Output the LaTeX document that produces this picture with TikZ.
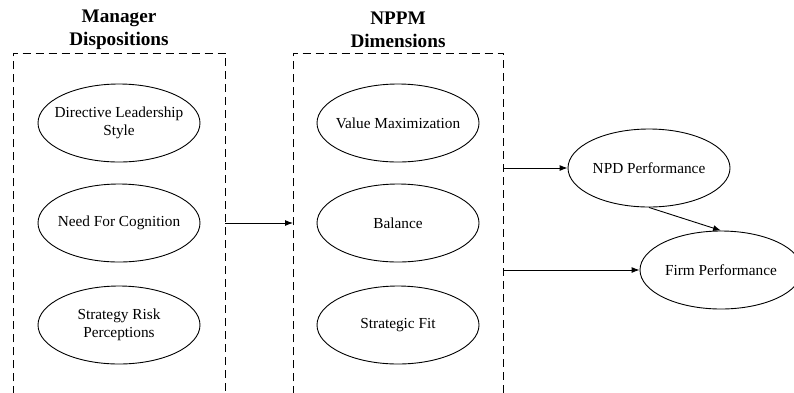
\documentclass[tikz,border=0pt]{standalone}
\usepackage{fontspec}
\setmainfont{Liberation Serif}
\usetikzlibrary{shapes.geometric,arrows.meta}
\begin{document}
\begin{tikzpicture}[x=1pt,y=-1pt,
  oval/.style={ellipse,draw,line width=0.9pt,minimum width=162pt,minimum height=78pt,inner sep=0pt},
  otext/.style={inner sep=0pt,align=center,font=\fontsize{15.3}{17.5}\selectfont},
  title/.style={align=center,font=\fontsize{19.2}{23}\selectfont\bfseries},
  group/.style={minimum width=212pt,minimum height=380pt,anchor=north west,inner sep=0pt},
  frame/.style={dash pattern=on 8pt off 5pt,line width=0.9pt},
  arr/.style={-{Latex[length=8pt,width=6pt]},line width=0.9pt}]
\clip (0,0) rectangle (794,392);
\fill[white] (0,0) rectangle (794,392);

% column frames (open at the bottom)
\node[group] (mbox) at (13,53) {};
\node[group,minimum width=210pt] (nbox) at (293,53) {};
\draw[frame] (mbox.south west) -- (mbox.north west) -- (mbox.north east) -- (mbox.south east);
\draw[frame] (nbox.south west) -- (nbox.north west) -- (nbox.north east) -- (nbox.south east);

% column titles
\node[title] (mtitle) at (119,29.5) {Manager\\Dispositions};
\node[title] (ntitle) at (398,29.5) {NPPM\\Dimensions};

% manager dispositions
\node[oval,label={[otext]center:Directive Leadership\\Style}] (dls) at (119,123) {};
\node[oval,label={[otext]center:Need For Cognition}] (nfc) at (119,223) {};
\node[oval,label={[otext]center:Strategy Risk\\Perceptions}] (srp) at (119,325) {};

% NPPM dimensions
\node[oval,label={[otext]center:Value Maximization}] (vm)  at (398,123) {};
\node[oval,label={[otext]center:Balance}] (bal) at (398,223) {};
\node[oval,label={[otext]center:Strategic Fit}] (sf)  at (398,325) {};

% outcomes
\node[oval,label={[otext]center:NPD Performance}] (npd)  at (649,168) {};
\node[oval,label={[otext]center:Firm Performance}] (firm) at (721,270) {};

% paths
\draw[arr] (mbox.east |- nfc.east) -- (nbox.west |- nfc.east);
\draw[arr] (nbox.east |- npd.west) -- (npd.west);
\draw[arr] (nbox.east |- firm.west) -- (firm.west);
\draw[arr] (npd.south) -- (firm.north);
\end{tikzpicture}
\end{document}
